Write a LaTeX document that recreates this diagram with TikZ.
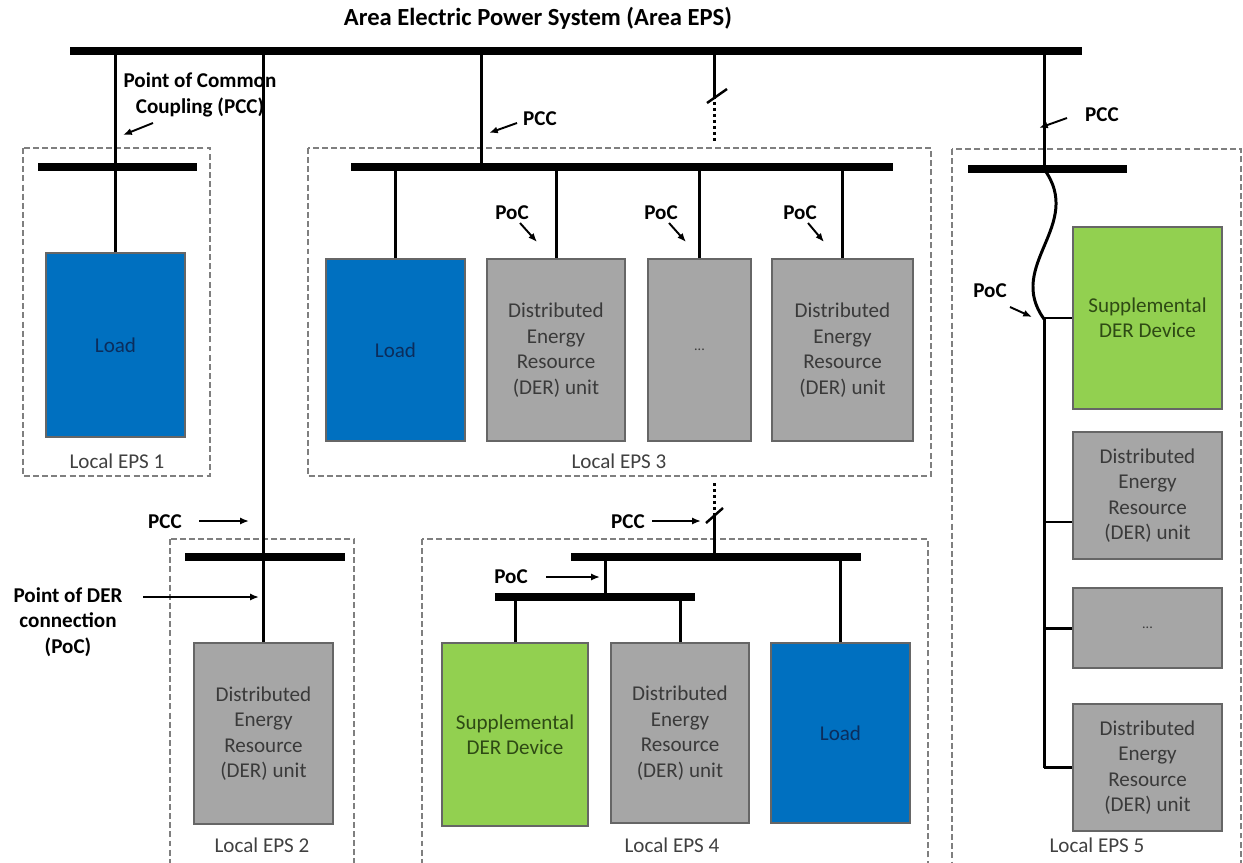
\documentclass[tikz,border=0pt]{standalone}
\usepackage{fontspec}
\setmainfont{Carlito}
\usetikzlibrary{arrows.meta}

\definecolor{loadblue}{HTML}{0070C0}
\definecolor{loadtext}{HTML}{0B2D5C}
\definecolor{dergray}{HTML}{A6A6A6}
\definecolor{dertext}{HTML}{3A3A3A}
\definecolor{supgreen}{HTML}{92D050}
\definecolor{suptext}{HTML}{2E4A14}
\definecolor{framegray}{HTML}{7F7F7F}

\begin{document}
\begin{tikzpicture}[x=0.02cm, y=-0.02cm,
    every node/.style={font=\fontsize{12}{14.5}\selectfont, align=center, inner sep=0pt},
    unit/.style={draw=black!60, line width=0.9pt, minimum width=2.78cm, minimum height=3.64cm},
    load/.style={unit, fill=loadblue, text=loadtext},
    der/.style={unit, fill=dergray, text=dertext},
    supp/.style={unit, fill=supgreen, text=suptext},
    bus/.style={line width=4.4pt},
    feeder/.style={line width=1.7pt},
    dotline/.style={line width=1.7pt, dash pattern=on 1.7pt off 1.7pt},
    brk/.style={line width=1.4pt},
    epsframe/.style={draw=framegray, line width=0.6pt, dash pattern=on 3.4pt off 1.8pt},
    eps/.style={text=black!75},
    lbl/.style={font=\fontsize{12}{14.5}\selectfont\bfseries},
    ptr/.style={line width=1.1pt, -{Latex[length=5pt,width=4pt]}}
]
\useasboundingbox (0,0) rectangle (1243,862);
\clip (0,0) rectangle (1243,862);

\node[lbl, font=\fontsize{14}{17}\selectfont\bfseries] (title) at (538,18) {Area Electric Power System (Area EPS)};

% local EPS frames
\draw[epsframe] (23,148) rectangle (210,476);
\draw[epsframe] (308,148) rectangle (931,476);
\draw[epsframe] (170,539) rectangle (354,870);
\draw[epsframe] (422,539) rectangle (928,870);
\draw[epsframe] (952,149) rectangle (1241,870);

\node[load, minimum height=3.68cm] (load1) at (115.5,345) {Load};
\node[load] (load3) at (395.5,350) {Load};
\node[der, minimum width=2.76cm] (der3a) at (556,350) {Distributed\\Energy\\Resource\\(DER) unit};
\node[der, minimum width=2.06cm] (dots3) at (699.5,350) {\fontsize{8}{10}\selectfont ...};
\node[der, minimum width=2.82cm] (der3b) at (842.5,350) {Distributed\\Energy\\Resource\\(DER) unit};
\node[der, minimum height=3.62cm] (der2) at (263.5,733.5) {Distributed\\Energy\\Resource\\(DER) unit};
\node[supp, minimum width=2.92cm, minimum height=3.66cm] (sup4) at (515,734.5) {Supplemental\\DER Device};
\node[der, minimum width=2.76cm, minimum height=3.6cm] (der4) at (680,733) {Distributed\\Energy\\Resource\\(DER) unit};
\node[load, minimum height=3.6cm] (load4) at (840.5,733) {Load};
\node[supp, minimum width=2.98cm] (sup5) at (1147.5,318) {Supplemental\\DER Device};
\node[der, minimum width=2.98cm, minimum height=2.54cm] (der5a) at (1147.5,495.5) {Distributed\\Energy\\Resource\\(DER) unit};
\node[der, minimum width=2.98cm, minimum height=1.6cm] (dots5) at (1147.5,628) {\fontsize{8}{10}\selectfont ...};
\node[der, minimum width=2.98cm, minimum height=2.54cm] (der5b) at (1147.5,767.5) {Distributed\\Energy\\Resource\\(DER) unit};

\node[eps] (eps1) at (117,461) {Local EPS 1};
\node[eps] (eps2) at (262,845) {Local EPS 2};
\node[eps] (eps3) at (619,461) {Local EPS 3};
\node[eps] (eps4) at (672,845) {Local EPS 4};
\node[eps] (eps5) at (1097,845) {Local EPS 5};

\node[lbl] (pcclbl1) at (200,95) {Point of Common\\Coupling (PCC)};
\node[lbl] (pcclbl2) at (165,522) {PCC};
\node[lbl] (poclbl2) at (68,622) {Point of DER\\connection\\(PoC)};
\node[lbl] (pcclbl3) at (540,119) {PCC};
\node[lbl] (poclbl3a) at (512,213) {PoC};
\node[lbl] (poclbl3b) at (661,213) {PoC};
\node[lbl] (poclbl3c) at (800,213) {PoC};
\node[lbl] (pcclbl4) at (628,522) {PCC};
\node[lbl] (poclbl4) at (511,577) {PoC};
\node[lbl] (pcclbl5) at (1102,115) {PCC};
\node[lbl] (poclbl5) at (990,291) {PoC};

% buses
\coordinate (mainW) at (70,51);   \coordinate (mainE) at (1082,51);
\coordinate (b1W) at (38,167);    \coordinate (b1E) at (197,167);
\coordinate (b2W) at (185,557);   \coordinate (b2E) at (345,557);
\coordinate (b3W) at (351,167);   \coordinate (b3E) at (893,167);
\coordinate (b4W) at (571,557);   \coordinate (b4E) at (861,557);
\coordinate (b4bW) at (495,597);  \coordinate (b4bE) at (695,597);
\coordinate (b5W) at (968,169);   \coordinate (b5E) at (1127,169);
\foreach \a/\b in {mainW/mainE, b1W/b1E, b2W/b2E, b3W/b3E, b4W/b4E, b4bW/b4bE, b5W/b5E}
    \draw[bus] (\a) -- (\b);

% feeders
\draw[feeder] (load1.north) -- (load1.north |- mainW);
\draw[feeder] (der2.north) -- (der2.north |- mainW);
\coordinate (pcc3) at (481,167);
\draw[feeder] (pcc3) -- (pcc3 |- mainW);
\foreach \b in {load3, der3a, dots3, der3b}
    \draw[feeder] (\b.north) -- (\b.north |- b3W);

\coordinate (brk3) at (714,96);
\coordinate (brk3b) at (714,142);
\draw[feeder] (brk3 |- mainW) -- (brk3);
\draw[brk] ([shift={(-7,7)}]brk3) -- ([shift={(13,-7)}]brk3);
\draw[dotline] (brk3) -- (brk3b);

\coordinate (brk4a) at (714,483);
\coordinate (brk4) at (714,515);
\coordinate (pcc4) at (714,557);
\draw[dotline] (brk4a) -- (brk4);
\draw[brk] ([shift={(-8,8)}]brk4) -- ([shift={(9,-7)}]brk4);
\draw[feeder] (brk4) -- (pcc4);
\coordinate (poc4) at (605,557);
\draw[feeder] (poc4) -- (poc4 |- b4bW);
\draw[feeder] (sup4.north) -- (sup4.north |- b4bW);
\draw[feeder] (der4.north) -- (der4.north |- b4bW);
\draw[feeder] (load4.north) -- (load4.north |- b4W);

\coordinate (pcc5) at (1044,169);
\coordinate (poc5) at (1044,319);
\draw[feeder] (pcc5 |- mainW) -- (pcc5);
\draw[feeder] (pcc5) .. controls (1085,225) and (1005,265) .. (poc5);
\draw[feeder] (poc5) -- (poc5 |- der5b.west);
\foreach \b in {sup5, dots5, der5b}
    \draw[feeder] (\b.west) -- (\b.west -| poc5);
\draw[feeder] ([yshift=-0.53cm]der5a.west) -- ([yshift=-0.53cm]der5a.west -| poc5);

% pointers
\coordinate (h1) at (123,135);
\coordinate (h2) at (249,521);
\coordinate (h3) at (259,597);
\coordinate (h4) at (489,133);
\coordinate (h5) at (537,242);
\coordinate (h6) at (686,242);
\coordinate (h7) at (824,242);
\coordinate (h8) at (701,521);
\coordinate (h9) at (600,577);
\coordinate (h10) at (1039,128);
\coordinate (h11) at (1032,317);
\draw[ptr] ([shift={(-47,28)}]pcclbl1.center) -- (h1);
\draw[ptr] ([shift={(34,-1)}]pcclbl2.center) -- (h2);
\draw[ptr] ([shift={(75,-25)}]poclbl2.center) -- (h3);
\draw[ptr] ([shift={(-23,4)}]pcclbl3.center) -- (h4);
\draw[ptr] ([shift={(8,10)}]poclbl3a.center) -- (h5);
\draw[ptr] ([shift={(8,10)}]poclbl3b.center) -- (h6);
\draw[ptr] ([shift={(8,10)}]poclbl3c.center) -- (h7);
\draw[ptr] ([shift={(24,-1)}]pcclbl4.center) -- (h8);
\draw[ptr] ([shift={(35,0)}]poclbl4.center) -- (h9);
\draw[ptr] ([shift={(-35,3)}]pcclbl5.center) -- (h10);
\draw[ptr] ([shift={(20,16)}]poclbl5.center) -- (h11);
\end{tikzpicture}
\end{document}
